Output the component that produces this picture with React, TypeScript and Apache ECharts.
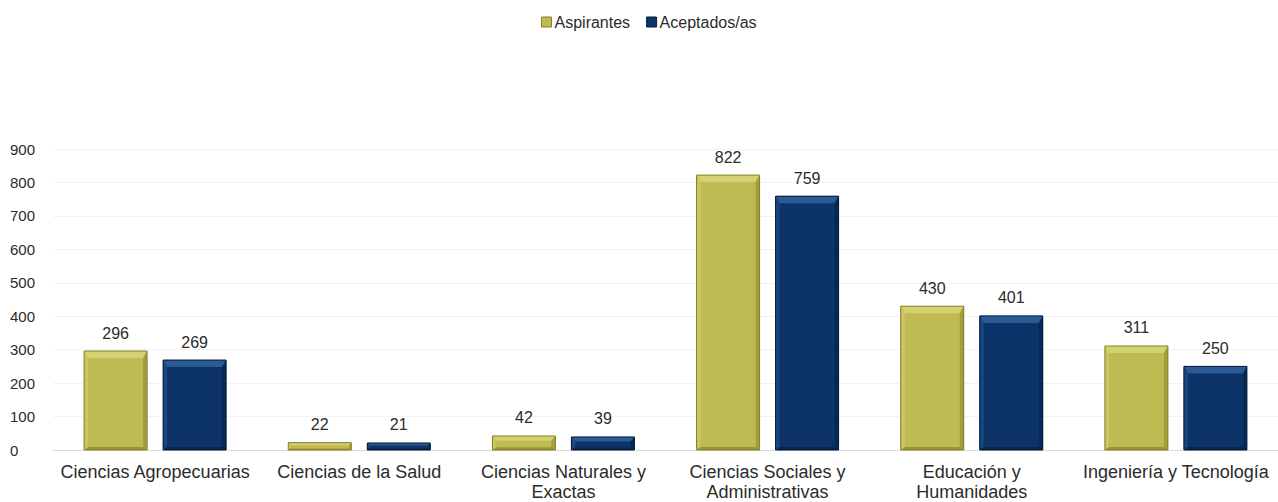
import React, { useEffect, useRef } from "react";
import * as echarts from "echarts";

const categories = [
  "Ciencias Agropecuarias",
  "Ciencias de la Salud",
  "Ciencias Naturales y\nExactas",
  "Ciencias Sociales y\nAdministrativas",
  "Educación y\nHumanidades",
  "Ingeniería y Tecnología",
];
const aspirantes = [296, 22, 42, 822, 430, 311];
const aceptados = [269, 21, 39, 759, 401, 250];

const BAR_W = 63;
const GAP = 16;

const palettes = {
  yellow: { body: "#bfbb52", top: "#d4d173", left: "#cac663", right: "#a29e3c", bottom: "#9a9634", border: "#858129" },
  blue: { body: "#0c3469", top: "#2b5a95", left: "#1a4680", right: "#072a55", bottom: "#06234a", border: "#041d3d" },
};

function bevelRenderer(pal: any, side: number) {
  return (params: any, api: any) => {
    const idx = api.value(0);
    const val = api.value(1);
    const base = api.coord([idx, 0]);
    const topPt = api.coord([idx, val]);
    const cx = base[0] + side * (BAR_W / 2 + GAP / 2);
    const x0 = cx - BAR_W / 2;
    const x1 = cx + BAR_W / 2;
    const y0 = topPt[1];
    const y1 = base[1];
    const h = y1 - y0;
    const bt = Math.min(7, h * 0.35);
    const bb = Math.min(3, h * 0.2);
    const bs = Math.min(4, h * 0.3);
    const children: any[] = [
      { type: "rect", shape: { x: x0, y: y0, width: BAR_W, height: h }, style: { fill: pal.body } },
      { type: "polygon", shape: { points: [[x0, y0], [x1, y0], [x1 - bs, y0 + bt], [x0 + bs, y0 + bt]] }, style: { fill: pal.top } },
      { type: "polygon", shape: { points: [[x0, y0], [x0 + bs, y0 + bt], [x0 + bs, y1 - bb], [x0, y1]] }, style: { fill: pal.left } },
      { type: "polygon", shape: { points: [[x1, y0], [x1 - bs, y0 + bt], [x1 - bs, y1 - bb], [x1, y1]] }, style: { fill: pal.right } },
      { type: "polygon", shape: { points: [[x0, y1], [x0 + bs, y1 - bb], [x1 - bs, y1 - bb], [x1, y1]] }, style: { fill: pal.bottom } },
      { type: "rect", shape: { x: x0, y: y0, width: BAR_W, height: h }, style: { fill: "none", stroke: pal.border, lineWidth: 1 } },
    ];
    return { type: "group", children };
  };
}

export default function App() {
  const ref = useRef<HTMLDivElement>(null);
  useEffect(() => {
    document.body.style.margin = "0";
    const chart = echarts.init(ref.current!, null, { renderer: "svg" });
    const font = "Arial, 'Liberation Sans', sans-serif";
    const txt = "#2b2b2b";
    chart.setOption({
      animation: false,
      textStyle: { fontFamily: font },
      legend: {
        top: 9,
        left: 536,
        itemWidth: 10,
        itemHeight: 10,
        itemGap: 16,
        icon: "rect",
        textStyle: { fontSize: 16, color: txt, fontFamily: font, padding: [0, 0, 0, -2] },
        data: [
          { name: "Aspirantes", itemStyle: { color: palettes.yellow.body, borderColor: palettes.yellow.border, borderWidth: 1 } },
          { name: "Aceptados/as", itemStyle: { color: palettes.blue.body, borderColor: palettes.blue.border, borderWidth: 1 } },
        ],
      },
      grid: { left: 53, top: 149, width: 1230, height: 302, containLabel: false },
      xAxis: {
        type: "category",
        data: categories,
        axisLine: { show: true, lineStyle: { color: "#d9d9d9" } },
        axisTick: { show: false },
        axisLabel: {
          interval: 0,
          fontSize: 18,
          color: txt,
          lineHeight: 20,
          margin: 12,
          fontFamily: font,
        },
      },
      yAxis: {
        type: "value",
        min: 0,
        max: 900,
        interval: 100,
        axisLine: { show: false },
        axisTick: { show: false },
        splitLine: { lineStyle: { color: "#f2f2f2" } },
        axisLabel: {
          fontSize: 15,
          color: txt,
          align: "left",
          margin: 43,
          fontFamily: font,
        },
      },
      series: [
        {
          name: "Aspirantes",
          type: "bar",
          data: aspirantes,
          barWidth: BAR_W,
          barGap: ((GAP / BAR_W) * 100).toFixed(1) + "%",
          itemStyle: { color: palettes.yellow.body, borderColor: palettes.yellow.border, borderWidth: 1 },
          label: { show: true, position: "top", distance: 10, fontSize: 16, color: txt, fontFamily: font },
        },
        {
          name: "Aceptados/as",
          type: "bar",
          data: aceptados,
          barWidth: BAR_W,
          itemStyle: { color: palettes.blue.body, borderColor: palettes.blue.border, borderWidth: 1 },
          label: { show: true, position: "top", distance: 10, fontSize: 16, color: txt, fontFamily: font },
        },
        {
          type: "custom",
          silent: true,
          z: 3,
          renderItem: bevelRenderer(palettes.yellow, -1),
          data: aspirantes.map((v, i) => [i, v]),
          encode: { x: 0, y: 1 },
        },
        {
          type: "custom",
          silent: true,
          z: 3,
          renderItem: bevelRenderer(palettes.blue, 1),
          data: aceptados.map((v, i) => [i, v]),
          encode: { x: 0, y: 1 },
        },
      ],
    });
    return () => chart.dispose();
  }, []);
  return <div ref={ref} style={{ width: 1278, height: 502 }} />;
}
